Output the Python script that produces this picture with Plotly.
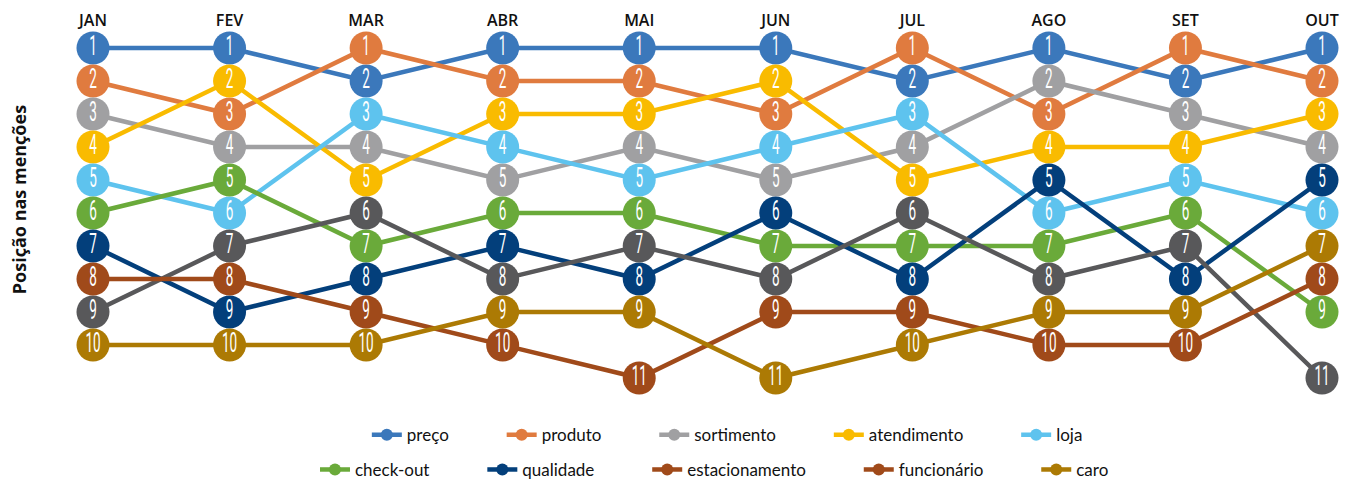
import plotly.graph_objects as go

months = ["JAN", "FEV", "MAR", "ABR", "MAI", "JUN", "JUL", "AGO", "SET", "OUT"]

preco = [1, 1, 2, 1, 1, 1, 2, 1, 2, 1]
produto = [2, 3, 1, 2, 2, 3, 1, 3, 1, 2]
sortimento = [3, 4, 4, 5, 4, 5, 4, 2, 3, 4]
atendimento = [4, 2, 5, 3, 3, 2, 5, 4, 4, 3]
loja = [5, 6, 3, 4, 5, 4, 3, 6, 5, 6]
check_out = [6, 5, 7, 6, 6, 7, 7, 7, 6, 9]
qualidade = [7, 9, 8, 7, 8, 6, 8, 5, 8, 5]
estacionamento = [9, 7, 6, 8, 7, 8, 6, 8, 7, 11]
funcionario = [8, 8, 9, 10, 11, 9, 9, 10, 10, 8]
caro = [10, 10, 10, 9, 9, 11, 10, 9, 9, 7]

series = [
    ("preço", preco, "#3b78bb", "#3b78bb"),
    ("produto", produto, "#e07b3f", "#e07b3f"),
    ("sortimento", sortimento, "#a0a0a2", "#a0a0a2"),
    ("atendimento", atendimento, "#f9bb00", "#f9bb00"),
    ("loja", loja, "#5ec3ee", "#5ec3ee"),
    ("check-out", check_out, "#6aaa3a", "#6aaa3a"),
    ("qualidade", qualidade, "#033f7b", "#033f7b"),
    ("estacionamento", estacionamento, "#58585a", "#a04a1a"),
    ("funcionário", funcionario, "#a04a1a", "#a04a1a"),
    ("caro", caro, "#ac7a04", "#ac7a04"),
]

xs = list(range(len(months)))
fig = go.Figure()

# lines first
for name, vals, col, lcol in series:
    fig.add_trace(go.Scatter(x=xs, y=vals, mode="lines",
                             line=dict(color=col, width=4.5),
                             showlegend=False, hoverinfo="skip", cliponaxis=False))
# markers + labels on top
for name, vals, col, lcol in series:
    fig.add_trace(go.Scatter(x=xs, y=vals, mode="markers+text",
                             marker=dict(color=col, size=33, line=dict(width=0)),
                             text=[str(v) for v in vals], textposition="middle center",
                             textfont=dict(color="white", size=27,
                                           family="Roboto, DejaVu Sans, sans-serif"),
                             name=name, showlegend=False, cliponaxis=False))

# legend entries
for i, (name, vals, col, lcol) in enumerate(series):
    fig.add_trace(go.Scatter(x=[None], y=[None], mode="lines+markers",
                             line=dict(color=lcol, width=4.5),
                             marker=dict(color=lcol, size=12),
                             name=name + "\u00a0" * 11,
                             legend="legend" if i < 5 else "legend2"))

ppu = (1322 - 93) / 9
L, R = 60, 1345
fig.update_layout(
    width=1345, height=482,
    margin=dict(l=L, r=0, t=30, b=82, autoexpand=False),
    paper_bgcolor="white", plot_bgcolor="white",
    xaxis=dict(range=[-(93 - L) / ppu, 9 + (R - 1322) / ppu], side="top",
               tickmode="array", tickvals=xs, ticktext=months,
               showgrid=False, zeroline=False, showline=False, ticks="",
               tickfont=dict(family="Open Sans", size=16, color="#111", weight=600)),
    yaxis=dict(range=[11 + 22 / 33, 1 - 18 / 33], showgrid=False, zeroline=False,
               showline=False, showticklabels=False, ticks=""),
    legend=dict(orientation="h", x=0.538, xanchor="center", y=-0.095, yanchor="middle",
                font=dict(family="Lato", size=17, color="#111"), itemsizing="trace",
                bgcolor="rgba(0,0,0,0)"),
    legend2=dict(orientation="h", x=0.528, xanchor="center", y=-0.189, yanchor="middle",
                 font=dict(family="Lato", size=17, color="#111"), itemsizing="trace",
                 bgcolor="rgba(0,0,0,0)"),
    annotations=[dict(text="<b>Posição nas menções</b>", xref="paper", yref="paper",
                      x=0, y=0.54, xshift=-41, xanchor="center", yanchor="middle",
                      textangle=-90, showarrow=False,
                      font=dict(family="Open Sans", size=18, color="#111"))],
)

# narrow the rank digits inside the circles (tall condensed look of the original)
post = """
document.querySelectorAll('g.textpoint text').forEach(function(t){
  var b = t.getBBox();
  var cx = b.x + b.width / 2, cy = b.y + b.height / 2;
  var prev = t.getAttribute('transform') || '';
  t.setAttribute('transform', prev + ' translate(' + cx + ',' + cy + ') scale(0.5,1) translate(' + (-cx) + ',' + (-cy) + ')');
});
"""
fig.write_html("out.html", post_script=post)
